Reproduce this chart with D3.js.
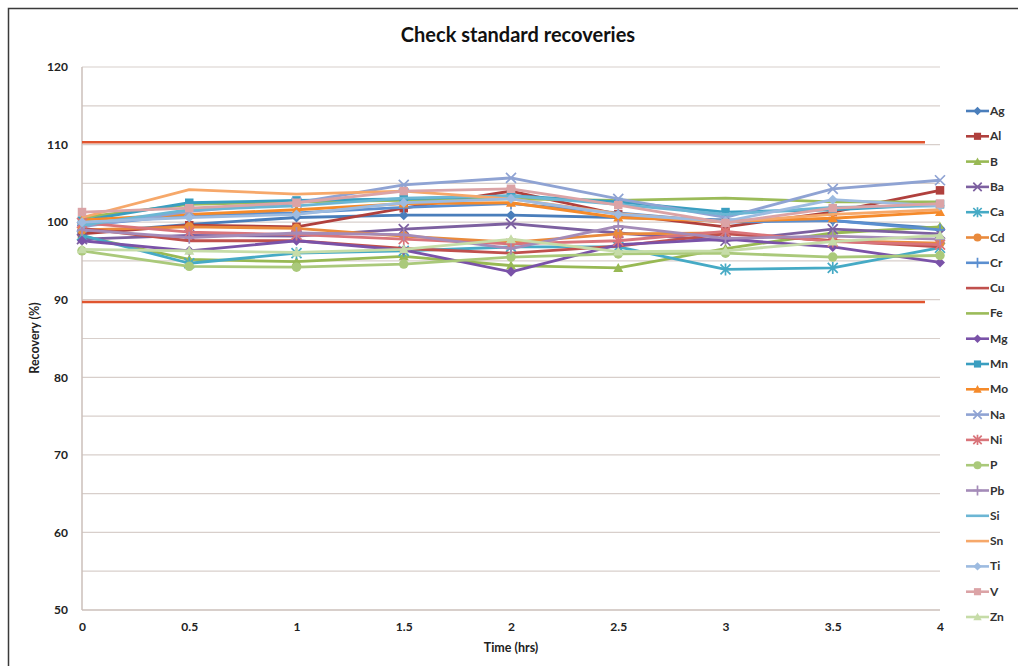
<!DOCTYPE html>
<html><head><meta charset="utf-8">
<script src="https://cdn.jsdelivr.net/npm/d3@7"></script>
<style>body{margin:0;background:#fff}svg{display:block}</style>
</head><body><svg id="c" width="1018" height="666"></svg>
<script>
const times = [0, 0.5, 1, 1.5, 2, 2.5, 3, 3.5, 4];
const xTicks = [0, 0.5, 1, 1.5, 2, 2.5, 3, 3.5, 4];
const yTicks = [50, 60, 70, 80, 90, 100, 110, 120];
const limits = [110.3, 89.7];
const Ag = [98.6, 99.7, 100.6, 100.9, 100.9, 100.6, 100.3, 100.2, 99.2];
const Al = [98.5, 99.6, 99.4, 101.8, 104.0, 101.0, 99.4, 101.3, 104.1];
const B  = [98.2, 95.2, 94.9, 95.6, 94.4, 94.1, 96.6, 98.6, 99.4];
const Ba = [97.8, 98.3, 98.2, 99.1, 99.8, 98.6, 97.6, 99.1, 98.5];
const Ca = [98.3, 94.7, 96.0, 96.3, 96.8, 96.8, 93.9, 94.1, 96.7];
const Cd = [99.0, 99.4, 99.2, 98.2, 97.4, 98.5, 98.6, 97.6, 97.3];
const Cr = [99.6, 100.9, 101.2, 101.9, 102.4, 101.2, 100.0, 100.2, 99.0];
const Cu = [99.2, 97.6, 97.6, 96.6, 96.0, 96.9, 98.5, 97.6, 96.8];
const Fe = [100.6, 102.3, 102.6, 102.8, 103.0, 102.8, 103.1, 102.6, 102.6];
const Mg = [97.6, 96.3, 97.6, 96.4, 93.6, 97.1, 97.8, 96.8, 94.8];
const Mn = [100.2, 102.5, 102.8, 103.0, 103.4, 102.6, 101.3, 101.6, 102.3];
const Mo = [100.3, 101.0, 101.6, 102.4, 102.5, 100.6, 100.1, 100.5, 101.3];
const Na = [99.4, 101.4, 102.5, 104.8, 105.7, 103.0, 100.6, 104.3, 105.4];
const Ni = [99.9, 98.7, 98.4, 97.8, 97.2, 97.6, 98.8, 97.5, 97.1];
const P  = [96.3, 94.3, 94.2, 94.6, 95.5, 95.9, 96.0, 95.5, 95.7];
const Pb = [99.0, 98.0, 98.6, 98.4, 96.6, 99.5, 97.9, 98.2, 97.8];
const Si = [99.6, 101.6, 102.1, 103.1, 103.4, 102.3, 101.0, 101.9, 102.1];
const Sn = [100.6, 104.2, 103.6, 104.0, 103.0, 101.1, 100.0, 101.0, 101.6];
const Ti = [100.0, 100.6, 101.0, 102.5, 103.0, 101.0, 100.1, 102.9, 102.1];
const V  = [101.3, 101.8, 102.5, 104.0, 104.3, 102.2, 99.9, 101.8, 102.4];
const Zn = [96.5, 96.3, 96.1, 96.5, 97.8, 96.2, 96.3, 97.5, 98.3];

const names = ["Ag","Al","B","Ba","Ca","Cd","Cr","Cu","Fe","Mg","Mn","Mo","Na","Ni","P","Pb","Si","Sn","Ti","V","Zn"];
const values = [Ag,Al,B,Ba,Ca,Cd,Cr,Cu,Fe,Mg,Mn,Mo,Na,Ni,P,Pb,Si,Sn,Ti,V,Zn];
const colors = ["#4a7ebb","#b0403d","#98b954","#7d60a0","#46aac5","#e98a3c","#5b8fd0","#c0504d","#9bbb59","#7a52a8","#3a9ec0","#f58a2a","#8fa3d3","#d9747a","#aac97a","#a48bb8","#6cb6d4","#f6a86a","#9dbbe0","#dba3a6","#c6dca8"];
const markers = ["diamond","square","triangle","x","star","circle","plus","none","none","diamond","square","triangle","x","star","circle","plus","none","none","diamond","square","triangle"];

const svg = d3.select("#c");
const font = "Lato, 'Open Sans', sans-serif";
svg.append("rect").attr("x",8.5).attr("y",8.5).attr("width",1030).attr("height",680)
  .attr("fill","#fff").attr("stroke","#3a3a3a").attr("stroke-width",1.5);

const x = d3.scaleLinear().domain([0,4]).range([82,940]);
const y = d3.scaleLinear().domain([50,120]).range([610,67]);

const grid = d3.range(55, 121, 5);
svg.append("g").selectAll("line").data(grid).join("line")
  .attr("x1",x(0)).attr("x2",x(4)).attr("y1",d=>y(d)).attr("y2",d=>y(d))
  .attr("stroke","#d8cfcb").attr("stroke-width",1.2);
svg.append("line").attr("x1",x(0)).attr("x2",x(0)).attr("y1",y(120)).attr("y2",y(50)).attr("stroke","#cbbfba").attr("stroke-width",1.5);
svg.append("line").attr("x1",x(0)).attr("x2",x(4)).attr("y1",y(50)).attr("y2",y(50)).attr("stroke","#cbbfba").attr("stroke-width",1.5);

const yAxis = d3.axisLeft(y).tickValues(yTicks).tickSize(0).tickPadding(14);
const gy = svg.append("g").attr("transform",`translate(${x(0)},0)`).call(yAxis);
gy.select(".domain").remove();
gy.selectAll("text").attr("font-family",font).attr("font-weight","bold").attr("font-size",12).attr("fill","#222");
const xAxis = d3.axisBottom(x).tickValues(xTicks).tickSize(0).tickPadding(12).tickFormat(d=>String(d));
const gx = svg.append("g").attr("transform",`translate(0,${y(50)})`).call(xAxis);
gx.select(".domain").remove();
gx.selectAll("text").attr("font-family",font).attr("font-weight","bold").attr("font-size",12).attr("fill","#222");

svg.append("g").selectAll("line").data(limits).join("line")
  .attr("x1",x(0)).attr("x2",x(3.93)).attr("y1",d=>y(d)).attr("y2",d=>y(d))
  .attr("stroke","#e0552f").attr("stroke-width",2.6);

function marker(g, type, color, cx, cy, s){
  const sw = 1.7;
  if(type==="diamond") g.append("path").attr("d",`M${cx},${cy-s}L${cx+s},${cy}L${cx},${cy+s}L${cx-s},${cy}Z`).attr("fill",color);
  else if(type==="square") g.append("rect").attr("x",cx-s*0.85).attr("y",cy-s*0.85).attr("width",s*1.7).attr("height",s*1.7).attr("fill",color);
  else if(type==="triangle") g.append("path").attr("d",`M${cx},${cy-s}L${cx+s},${cy+s*0.8}L${cx-s},${cy+s*0.8}Z`).attr("fill",color);
  else if(type==="circle") g.append("circle").attr("cx",cx).attr("cy",cy).attr("r",s*0.95).attr("fill",color);
  else if(type==="x") g.append("path").attr("d",`M${cx-s},${cy-s}L${cx+s},${cy+s}M${cx-s},${cy+s}L${cx+s},${cy-s}`).attr("stroke",color).attr("stroke-width",sw);
  else if(type==="star") g.append("path").attr("d",`M${cx-s},${cy-s}L${cx+s},${cy+s}M${cx-s},${cy+s}L${cx+s},${cy-s}M${cx},${cy-s*1.2}L${cx},${cy+s*1.2}`).attr("stroke",color).attr("stroke-width",sw);
  else if(type==="plus") g.append("path").attr("d",`M${cx},${cy-s*1.2}L${cx},${cy+s*1.2}M${cx-s},${cy}L${cx+s},${cy}`).attr("stroke",color).attr("stroke-width",sw);
}

const line = d3.line().x((d,i)=>x(times[i])).y(d=>y(d));
const plot = svg.append("g");
names.forEach((n,k)=>{
  const g = plot.append("g");
  g.append("path").datum(values[k]).attr("d",line).attr("fill","none")
    .attr("stroke",colors[k]).attr("stroke-width",2.8).attr("stroke-linejoin","round");
  if(markers[k]!=="none") values[k].forEach((v,i)=>marker(g,markers[k],colors[k],x(times[i]),y(v),5));
});

const lg = svg.append("g");
names.forEach((n,k)=>{
  const ly = 111 + k*25.3;
  lg.append("line").attr("x1",966).attr("x2",989).attr("y1",ly).attr("y2",ly).attr("stroke",colors[k]).attr("stroke-width",2.6);
  if(markers[k]!=="none") marker(lg,markers[k],colors[k],977.5,ly,4.2);
  lg.append("text").attr("x",990).attr("y",ly+4).text(n).attr("font-family",font).attr("font-size",12).attr("font-weight","bold").attr("fill","#333");
});

svg.append("text").attr("x",518).attr("y",42).attr("text-anchor","middle").text("Check standard recoveries")
  .attr("font-family",font).attr("font-weight","bold").attr("font-size",20).attr("fill","#111");
svg.append("text").attr("x",511).attr("y",652).attr("text-anchor","middle").text("Time (hrs)")
  .attr("font-family",font).attr("font-weight","bold").attr("font-size",12.5).attr("fill","#222");
svg.append("text").attr("transform","translate(39,338) rotate(-90)").attr("text-anchor","middle").text("Recovery (%)")
  .attr("font-family",font).attr("font-weight","bold").attr("font-size",12.5).attr("fill","#222");
</script></body></html>
